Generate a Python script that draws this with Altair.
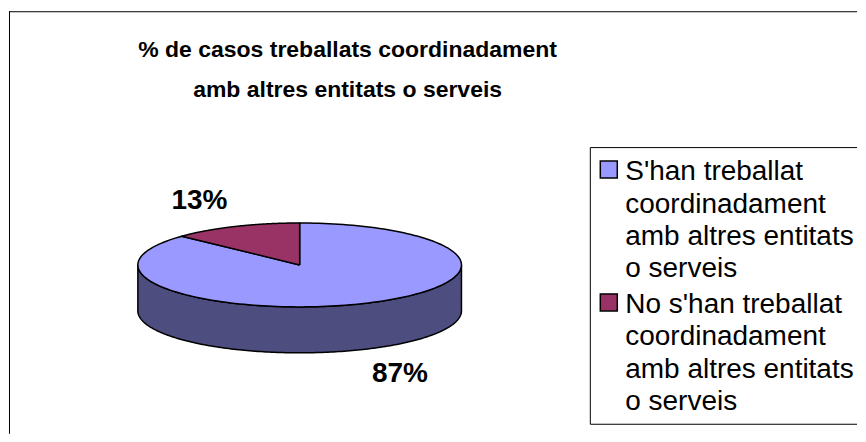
import altair as alt
import pandas as pd

# ---- data ----
title_lines = ["% de casos treballats coordinadament", "amb altres entitats o serveis"]
categories = [
    "S'han treballat coordinadament amb altres entitats o serveis",
    "No s'han treballat coordinadament amb altres entitats o serveis",
]
legend_lines = [
    ["S'han treballat", "coordinadament", "amb altres entitats", "o serveis"],
    ["No s'han treballat", "coordinadament", "amb altres entitats", "o serveis"],
]
values = [87, 13]
top_colors = ["#9999FF", "#993366"]
side_colors = ["#4D4D80", "#4D1A33"]

# ---- layout (pixel frame of the plot area) ----
W, H = 850, 426
CX, CY, RA, RB, DEPTH = 292, 257, 162, 42, 46
N = 180

xscale = alt.Scale(domain=[0, W], nice=False, zero=False)
yscale = alt.Scale(domain=[0, H], nice=False, zero=False, reverse=True)


def X(f):
    return alt.X(f"{f}:Q", scale=xscale, axis=None)


def Y(f):
    return alt.Y(f"{f}:Q", scale=yscale, axis=None)


color = alt.Color("category:N", scale=alt.Scale(domain=categories, range=top_colors), legend=None)

slices = pd.DataFrame({"category": categories, "value": values, "idx": list(range(len(values)))})

base = (
    alt.Chart(slices)
    .transform_joinaggregate(total="sum(value)")
    .transform_window(cum="sum(value)", sort=[alt.SortField("idx")], frame=[None, 0])
    .transform_calculate(p1="100 * datum.cum / datum.total")
    .transform_calculate(p0="100 * (datum.cum - datum.value) / datum.total")
)

ang = "PI / 2 - 2 * PI * datum.p / 100"

# visible side (front half of the disc)
side = (
    base.transform_calculate(lo="max(datum.p0, 25)")
    .transform_calculate(hi="min(datum.p1, 75)")
    .transform_filter("datum.hi > datum.lo")
    .transform_calculate(k=f"sequence(0, {2 * N + 3})")
    .transform_flatten(["k"])
    .transform_calculate(dn=f"datum.k > {N} && datum.k <= {2 * N + 1} ? 1 : 0")
    .transform_calculate(j=f"datum.k <= {N} ? datum.k : (datum.k <= {2 * N + 1} ? {2 * N + 1} - datum.k : 0)")
    .transform_calculate(p=f"datum.lo + (datum.hi - datum.lo) * datum.j / {N}")
    .transform_calculate(t=ang)
    .transform_calculate(px=f"{CX} + {RA} * cos(datum.t)")
    .transform_calculate(py=f"{CY} - {RB} * sin(datum.t) + {DEPTH} * datum.dn")
    .mark_line(filled=True, stroke="black", strokeWidth=1.5, strokeJoin="round")
    .encode(
        x=X("px"),
        y=Y("py"),
        fill=alt.Fill("category:N", scale=alt.Scale(domain=categories, range=side_colors), legend=None),
        order="k:Q",
        detail="category:N",
    )
)

# top surface slices
top = (
    base.transform_calculate(k=f"sequence(-1, {N + 2})")
    .transform_flatten(["k"])
    .transform_calculate(c=f"datum.k < 0 || datum.k > {N} ? 1 : 0")
    .transform_calculate(p=f"datum.p0 + (datum.p1 - datum.p0) * clamp(datum.k, 0, {N}) / {N}")
    .transform_calculate(t=ang)
    .transform_calculate(px=f"datum.c ? {CX} : {CX} + {RA} * cos(datum.t)")
    .transform_calculate(py=f"datum.c ? {CY} : {CY} - {RB} * sin(datum.t)")
    .mark_line(filled=True, stroke="black", strokeWidth=1.5, strokeJoin="round")
    .encode(x=X("px"), y=Y("py"), color=color, order="k:Q", detail="category:N")
)

# percentage labels
labels = (
    base.transform_calculate(p="(datum.p0 + datum.p1) / 2")
    .transform_calculate(t=ang)
    .transform_calculate(lx=f"{CX} + 1.56 * {RA} * cos(datum.t)")
    .transform_calculate(ly=f"{CY} - 1.65 * {RB} * sin(datum.t) + (sin(datum.t) < 0 ? {DEPTH} : 0)")
    .transform_calculate(pct="format(datum.value / datum.total, '.0%')")
    .mark_text(font="Liberation Sans, Arial, sans-serif", fontWeight="bold", fontSize=28,
               align="center", baseline="middle", color="black")
    .encode(x=X("lx"), y=Y("ly"), text="pct:N")
)

# title
title_df = pd.DataFrame({"lines": [title_lines]})
title = (
    alt.Chart(title_df)
    .mark_text(font="Liberation Sans, Arial, sans-serif",
               fontWeight="bold", fontSize=23, lineHeight=40, align="center",
               baseline="alphabetic", color="black")
    .encode(x=alt.value(340), y=alt.value(48.5), text="lines:N")
)

# frame lines
one = pd.DataFrame({"a": [0]})
rule = alt.Chart(one).mark_rule(color="black", strokeWidth=1)
outer_top = rule.encode(x=alt.value(1), x2=alt.value(W), y=alt.value(3.5))
outer_left = rule.encode(x=alt.value(1.5), y=alt.value(3), y2=alt.value(H))
box_top = rule.encode(x=alt.value(583), x2=alt.value(W), y=alt.value(139.5))
box_bottom = rule.encode(x=alt.value(583), x2=alt.value(W), y=alt.value(416.5))
box_left = rule.encode(x=alt.value(583), y=alt.value(139.5), y2=alt.value(416.5))

# legend
leg_df = pd.DataFrame({"category": categories, "lines": legend_lines, "idx": list(range(len(categories)))})
leg_base = alt.Chart(leg_df).transform_calculate(ly="172 + 133 * datum.idx")
leg_text = leg_base.mark_text(
    font="Liberation Sans, Arial, sans-serif", fontSize=28, lineHeight=32.5,
    align="left", baseline="alphabetic", color="black"
).encode(x=alt.value(618), y=Y("ly"), text="lines:N")
leg_sym = (
    leg_base.transform_calculate(sy="datum.ly - 10.5")
    .mark_square(size=17 * 17, stroke="black", strokeWidth=1.5, opacity=1)
    .encode(x=alt.value(601.5), y=Y("sy"), color=color)
)

chart = (
    alt.layer(outer_top, outer_left, side, top, labels, title,
              box_top, box_bottom, box_left, leg_sym, leg_text)
    .properties(width=W, height=H, padding=0)
    .configure_view(stroke=None)
)

chart.save("out.html", embed_options={"renderer": "svg", "actions": False})
